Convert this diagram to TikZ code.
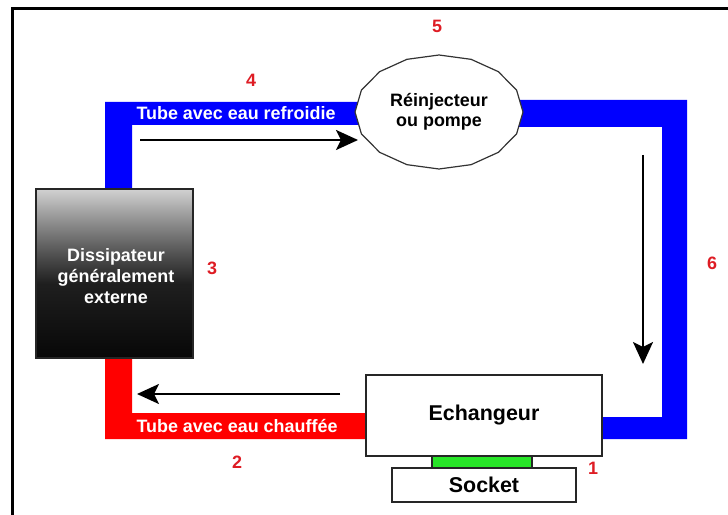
\documentclass[tikz,border=0pt]{standalone}
\usepackage{fontspec}
\setmainfont{Liberation Sans}
\usetikzlibrary{arrows.meta}

\definecolor{tubeblue}{RGB}{0,0,255}
\definecolor{tubered}{RGB}{255,0,0}
\definecolor{numred}{RGB}{222,28,36}
\definecolor{contactgreen}{RGB}{40,230,40}

% radiator body: light grey on top, fading to black towards the bottom
\pgfdeclareverticalshading{dissipshade}{100bp}{%
  color(0bp)=(black!97); color(25bp)=(black!97); color(47bp)=(black!88);
  color(55bp)=(black!70); color(65bp)=(black!45); color(75bp)=(black!18);
  color(100bp)=(black!18)}

\begin{document}
\begin{tikzpicture}[x=1bp,y=-1bp,
  num/.style={text=numred, font=\fontsize{18}{21}\selectfont\bfseries},
  tubelabel/.style={text=white, font=\fontsize{18}{21}\selectfont\bfseries},
  box/.style={draw=black!85, line width=1.2bp, fill=white, inner sep=0},
  flow/.style={line width=2.5bp, -{Stealth[length=22bp,width=20bp,inset=5bp]}}]

\useasboundingbox (0,0) rectangle (728,515);
\clip (0,0) rectangle (728,515);

% outer frame
\draw[line width=3bp] (12,9) rectangle (760,540);

% cold water tubes (blue)
\fill[tubeblue] (105,189) -- (105,102) -- (370,102) -- (370,125) -- (132,125) -- (132,189) -- cycle;
\fill[tubeblue] (510,100) -- (687,100) -- (687,439) -- (602,439) -- (602,417)
  -- (662,417) -- (662,127) -- (510,127) -- cycle;
% hot water tube (red)
\fill[tubered] (105,358) -- (105,439) -- (366,439) -- (366,413) -- (132,413) -- (132,358) -- cycle;

% pump outline
\draw[draw=black!80, line width=1.2bp, fill=white]
  plot[samples=17, domain=0:360] ({439+84*cos(\x)},{112+57*sin(\x)}) -- cycle;
\node[align=center, font=\fontsize{18}{20.5}\selectfont\bfseries] (pump) at (439,112)
  {Réinjecteur\\ou pompe};

% radiator
\node[draw=black!85, line width=1.2bp, shade, shading=dissipshade,
  minimum width=157bp, minimum height=169bp, inner sep=0] (dissip) at (114.5,273.5) {};
\node[text=white, align=center, font=\fontsize{18}{21}\selectfont\bfseries]
  (dissiptext) at (116,276) {Dissipateur\\généralement\\externe};

% heat exchanger, contact pad and socket
\node[box, minimum width=236bp, minimum height=81bp,
  font=\fontsize{21.5}{24}\selectfont\bfseries] (ech) at (484,415.5) {Echangeur};
\node[draw=black!85, line width=1.2bp, fill=contactgreen, minimum width=100bp,
  minimum height=12bp, inner sep=0] (contact) at (482,462) {};
\node[box, minimum width=184bp, minimum height=34bp,
  font=\fontsize{21.5}{24}\selectfont\bfseries] (socket) at (484,485) {Socket};

% tube captions
\node[tubelabel] (cold) at (236,113) {Tube avec eau refroidie};
\node[tubelabel] (hot) at (237,426) {Tube avec eau chauffée};

% numbering
\node[num] (n1) at (593,468) {1};
\node[num] (n2) at (237,462) {2};
\node[num] (n3) at (212,268) {3};
\node[num] (n4) at (251,80) {4};
\node[num] (n5) at (437,26) {5};
\node[num] (n6) at (712,263) {6};

% flow direction arrows
\coordinate (topA) at (140,140);
\coordinate (topB) at (358,140);
\coordinate (rightA) at (643,155);
\coordinate (rightB) at (643,364);
\coordinate (botA) at (340,394);
\coordinate (botB) at (137,394);
\draw[flow] (topA) -- (topB);
\draw[flow] (rightA) -- (rightB);
\draw[flow] (botA) -- (botB);
\end{tikzpicture}
\end{document}
